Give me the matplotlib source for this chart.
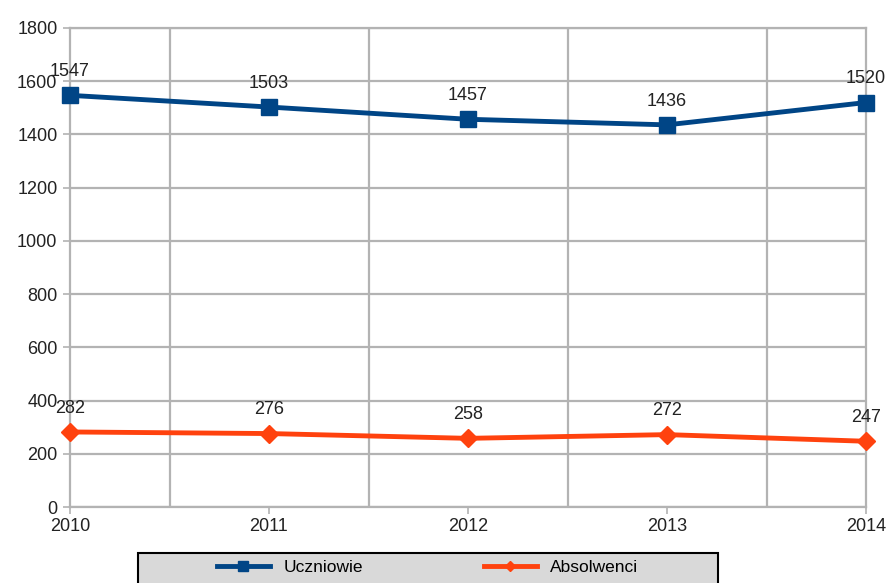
import matplotlib
matplotlib.use("Agg")
import matplotlib.pyplot as plt
from matplotlib.patches import Rectangle

years = [2010, 2011, 2012, 2013, 2014]
uczniowie = [1547, 1503, 1457, 1436, 1520]
absolwenci = [282, 276, 258, 272, 247]
y_ticks = [0, 200, 400, 600, 800, 1000, 1200, 1400, 1600, 1800]

plt.rcParams['font.family'] = ['Liberation Sans', 'DejaVu Sans']

fig = plt.figure(figsize=(8.9, 5.83), dpi=100)
ax = fig.add_axes([70/890, 1-507/583, (866-70)/890, (507-28)/583])

blue = '#004586'
orange = '#ff420e'
grid = '#b3b3b3'

ax.set_xlim(2010, 2014)
ax.set_ylim(0, 1800)
ax.set_yticks(y_ticks)
ax.set_xticks(years)
ax.set_xticklabels([str(y) for y in years])

# gridlines
for yv in y_ticks:
    ax.axhline(yv, color=grid, lw=1.6, zorder=0)
for i in range(len(years) - 1):
    ax.axvline((years[i] + years[i+1]) / 2, color=grid, lw=1.6, zorder=0)
for s in ax.spines.values():
    s.set_color(grid)
    s.set_linewidth(1.6)

ax.tick_params(axis='both', colors=grid, labelcolor='#222222', labelsize=13, length=5, width=1.2)
ax.tick_params(axis='x', pad=3)
ax.tick_params(axis='y', pad=4)

l1, = ax.plot(years, uczniowie, color=blue, lw=3.5, marker='s', ms=11.5, zorder=3, clip_on=False, label='Uczniowie')
l2, = ax.plot(years, absolwenci, color=orange, lw=3.5, marker='D', ms=9, zorder=3, clip_on=False, label='Absolwenci')

for x, v in zip(years, uczniowie):
    ax.annotate(str(v), (x, v), xytext=(0, 11), textcoords='offset points', ha='center', va='bottom', fontsize=13, color='#222222')
for x, v in zip(years, absolwenci):
    ax.annotate(str(v), (x, v), xytext=(0, 11), textcoords='offset points', ha='center', va='bottom', fontsize=13, color='#222222')

# legend box (cut by figure bottom)
rect = Rectangle((138/890, -0.05), (718-138)/890, 0.05 + (583-553)/583, transform=fig.transFigure,
                 facecolor='#d9d9d9', edgecolor='black', lw=1.5, zorder=5)
fig.patches.append(rect)
leg = fig.legend(handles=[l1, l2], labels=['Uczniowie', 'Absolwenci'], loc='center',
                 bbox_to_anchor=(428/890, 1-567/583), ncol=2, frameon=False, fontsize=12.5,
                 handlelength=3, columnspacing=7, markerscale=0.6)
leg.set_zorder(6)

fig.savefig('out.png', dpi=100)
